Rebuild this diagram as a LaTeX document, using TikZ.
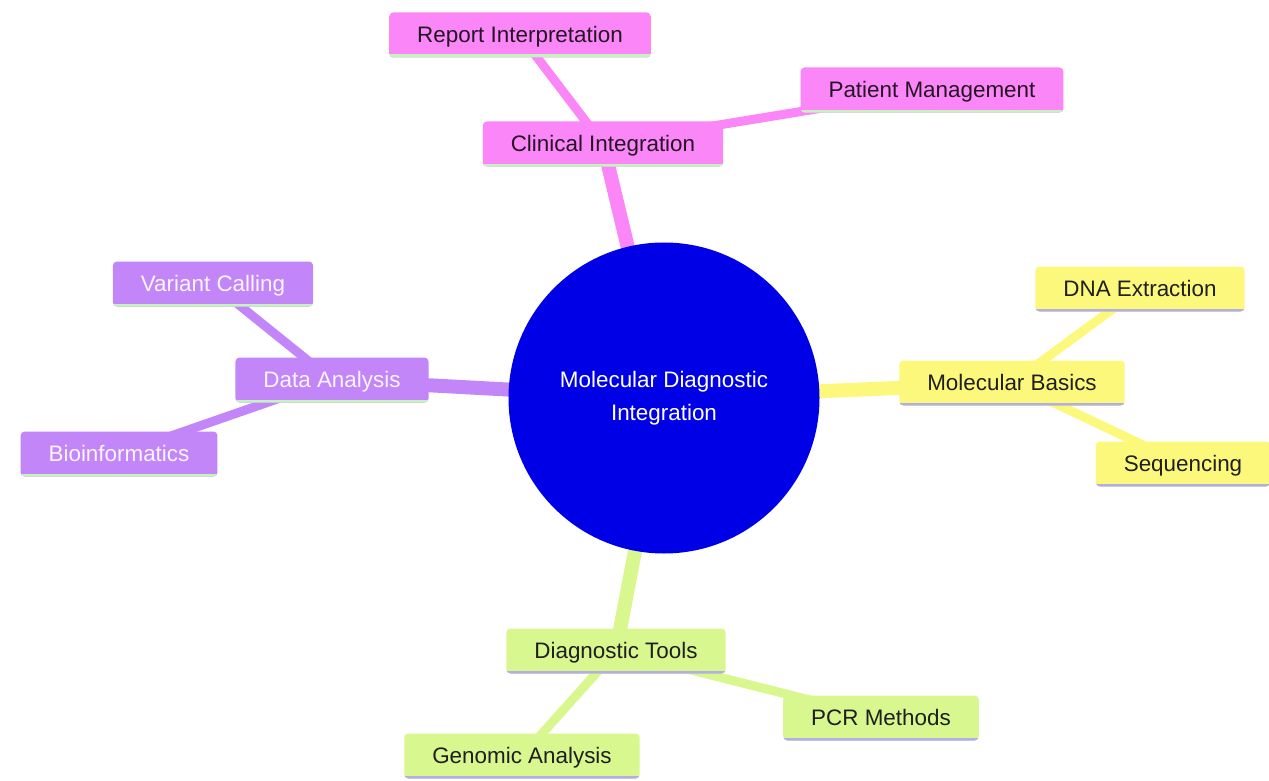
\documentclass[tikz,border=0pt]{standalone}
\usepackage{fontspec}
\setmainfont{Liberation Sans}
\usetikzlibrary{backgrounds}
\definecolor{rootblue}{HTML}{0000E6}
\definecolor{clinpink}{HTML}{FB86F8}
\definecolor{datapurple}{HTML}{C286F8}
\definecolor{molyellow}{HTML}{FBF87C}
\definecolor{diaggreen}{HTML}{D8F78E}
\definecolor{linegreen}{HTML}{C6F2BE}
\definecolor{linelav}{HTML}{B3AEE6}
\begin{document}
\begin{tikzpicture}[x=1bp, y=-1bp,
  font=\fontsize{22.5}{33}\selectfont,
  box/.style={rectangle, rounded corners=4bp, inner xsep=28bp, inner ysep=0bp, minimum height=45bp, text height=16bp, text depth=1bp},
  underline/.style={path picture={\draw[line width=6bp, #1] (path picture bounding box.south west) -- (path picture bounding box.south east);}},
  clin/.style={box, fill=clinpink, text=black!85!clinpink, underline=linegreen},
  data/.style={box, fill=datapurple, text=white!92!datapurple, underline=linegreen},
  mol/.style={box, fill=molyellow, text=black!88, underline=linelav},
  diag/.style={box, fill=diaggreen, text=black!88, underline=linelav},
  edgeone/.style={line width=14bp},
  edgetwo/.style={line width=9bp}]
\useasboundingbox (0,0) rectangle (1269,781);
\node[circle, fill=rootblue, minimum size=311bp, text=white, align=center] (nid0) at (664,398){Molecular Diagnostic\\Integration};
% clinical branch
\node[clin] (nid1) at (603,144){Clinical Integration};
\node[clin] (nid2) at (520,35){Report Interpretation};
\node[clin] (nid3) at (932,90){Patient Management};
% data branch
\node[data] (nid4) at (332,380){Data Analysis};
\node[data] (nid5) at (213,284){Variant Calling};
\node[data] (nid6) at (119,454){Bioinformatics};
% molecular branch
\node[mol] (nid7) at (1012,383){Molecular Basics};
\node[mol] (nid8) at (1140,289){DNA Extraction};
\node[mol] (nid9) at (1183,464){Sequencing};
% diagnostic branch
\node[diag] (nid10) at (616,651){Diagnostic Tools};
\node[diag] (nid11) at (881,718){PCR Methods};
\node[diag] (nid12) at (522,756){Genomic Analysis};
\begin{scope}[on background layer]
\draw[edgeone, clinpink](nid0.center) -- (nid1.center);
\draw[edgetwo, clinpink](nid1.center) -- (nid2.center);
\draw[edgetwo, clinpink](nid1.center) -- (nid3.center);
\draw[edgeone, datapurple](nid0.center) -- (nid4.center);
\draw[edgetwo, datapurple](nid4.center) -- (nid5.center);
\draw[edgetwo, datapurple](nid4.center) -- (nid6.center);
\draw[edgeone, molyellow](nid0.center) -- (nid7.center);
\draw[edgetwo, molyellow](nid7.center) -- (nid8.center);
\draw[edgetwo, molyellow](nid7.center) -- (nid9.center);
\draw[edgeone, diaggreen](nid0.center) -- (nid10.center);
\draw[edgetwo, diaggreen](nid10.center) -- (nid11.center);
\draw[edgetwo, diaggreen](nid10.center) -- (nid12.center);
\end{scope}
\end{tikzpicture}
\end{document}
